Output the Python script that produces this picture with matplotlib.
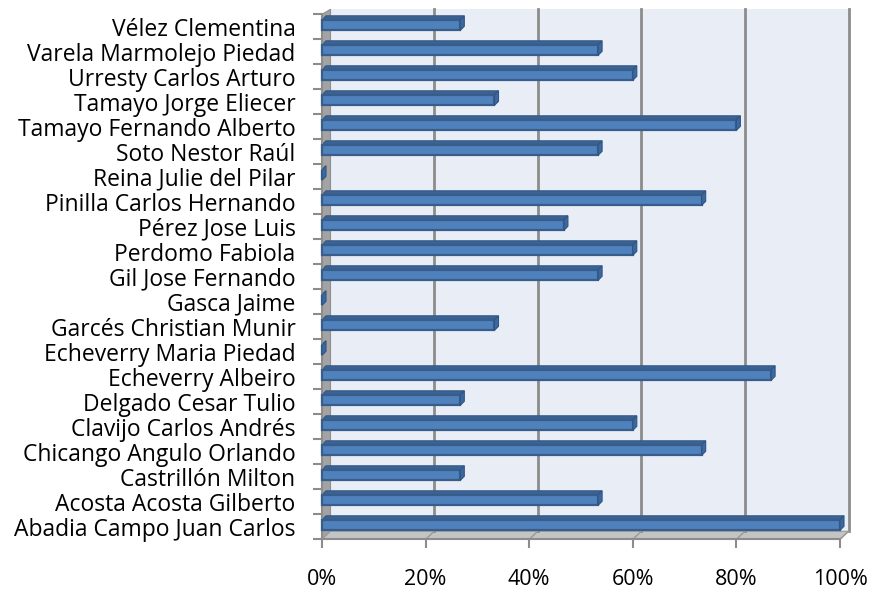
import numpy as np
import matplotlib
matplotlib.use('Agg')
import matplotlib.pyplot as plt
from matplotlib.patches import Polygon

# names listed bottom to top, as on the chart
names = ['Abadia Campo Juan Carlos', 'Acosta Acosta Gilberto', 'Castrillón Milton',
    'Chicango Angulo Orlando', 'Clavijo Carlos Andrés', 'Delgado Cesar Tulio',
    'Echeverry Albeiro', 'Echeverry Maria Piedad', 'Garcés Christian Munir',
    'Gasca Jaime', 'Gil Jose Fernando', 'Perdomo Fabiola', 'Pérez Jose Luis',
    'Pinilla Carlos Hernando', 'Reina Julie del Pilar', 'Soto Nestor Raúl',
    'Tamayo Fernando Alberto', 'Tamayo Jorge Eliecer', 'Urresty Carlos Arturo',
    'Varela Marmolejo Piedad', 'Vélez Clementina']
values = [100, 53.3, 26.7, 73.3, 60, 26.7, 86.7, 0, 33.3, 0, 53.3, 60, 46.7,
    73.3, 0, 53.3, 80, 33.3, 60, 53.3, 26.7]
xticks = [0, 20, 40, 60, 80, 100]
xlabels = ['0%', '20%', '40%', '60%', '80%', '100%']

plt.rcParams['font.family'] = ['Open Sans', 'DejaVu Sans']

W, H = 872, 593
fig = plt.figure(figsize=(W / 100, H / 100), dpi=100)
# x: 0 -> 322px, 100 -> 840px ; y: -0.5 -> 539px from top, 25px per row
pxx = 5.18
pxy = 25.0
x0, x1 = -2, 104
y0, y1 = -1.0, 21.0
left = 322 - 2 * pxx
bottom = (H - 539.3) - 0.5 * pxy
ax = fig.add_axes([left / W, bottom / H, (x1 - x0) * pxx / W, (y1 - y0) * pxy / H])
ax.set_xlim(x0, x1)
ax.set_ylim(y0, y1)
ax.patch.set_visible(False)

n = len(names)
ytop = n - 0.5
# depth of the walls
dx = 8.5 / pxx
dy = 8.0 / pxy
dyt = 5.0 / pxy

# back wall
ax.add_patch(Polygon([(dx, -0.5 + dy), (100 + dx, -0.5 + dy), (100 + dx, ytop + dyt), (dx, ytop + dyt)],
    closed=True, facecolor='#e9edf6', edgecolor='none', zorder=0))
# side wall
ax.add_patch(Polygon([(0, -0.5), (dx, -0.5 + dy), (dx, ytop + dyt), (0, ytop)],
    closed=True, facecolor='#a3a3a3', edgecolor='#8f8f8f', lw=0.8, zorder=1))
# floor
ax.add_patch(Polygon([(0, -0.5), (100, -0.5), (100 + dx, -0.5 + dy), (dx, -0.5 + dy)],
    closed=True, facecolor='#c4c4c4', edgecolor='#9a9a9a', lw=0.8, zorder=1))
# gridlines on the back wall
for t in xticks[1:]:
    ax.plot([t + dx, t + dx], [-0.5 + dy, ytop + dyt], color='#8c8c8c', lw=2, zorder=1)
    ax.plot([t, t + dx], [-0.5, -0.5 + dy], color='#9a9a9a', lw=1, zorder=1)

# bars
ypos = np.arange(n)
bdx = 4.0 / pxx
bdy = 4.0 / pxy
lo, hi = -0.14, 0.28
ax.barh(ypos + (lo + hi) / 2, values, height=hi - lo, left=0, color='#4f81bd',
    edgecolor='#385d8a', linewidth=1.6, zorder=3)
for y, v in zip(ypos, values):
    top = [(0, y + hi), (v, y + hi), (v + bdx, y + hi + bdy), (bdx, y + hi + bdy)]
    side = [(v, y + lo), (v, y + hi), (v + bdx, y + hi + bdy), (v + bdx, y + lo + bdy)]
    ax.add_patch(Polygon(top, closed=True, facecolor='#3a6293', edgecolor='#355a88', lw=0.8, zorder=2))
    ax.add_patch(Polygon(side, closed=True, facecolor='#3c68a0', edgecolor='#2f5584', lw=0.8, zorder=4))

# axes
for s in ['top', 'right']:
    ax.spines[s].set_visible(False)
ax.spines['left'].set_position(('data', 0))
ax.spines['left'].set_bounds(-0.5, ytop)
ax.spines['bottom'].set_position(('data', -0.5))
ax.spines['bottom'].set_bounds(0, 100)
for s in ['left', 'bottom']:
    ax.spines[s].set_color('#8c8c8c')
    ax.spines[s].set_linewidth(1.5)

ax.set_yticks(ypos)
ax.set_yticklabels(names, fontsize=16.5)
ax.set_yticks(np.arange(n + 1) - 0.5, minor=True)
ax.tick_params(axis='y', which='major', length=0, pad=19)
ax.tick_params(axis='y', which='minor', length=6.5, width=1.5, color='#8c8c8c')
ax.set_xticks(xticks)
ax.set_xticklabels(xlabels, fontsize=15.5)
ax.tick_params(axis='x', length=6.5, width=1.5, color='#8c8c8c', pad=15)

fig.savefig('out.png', dpi=100)
